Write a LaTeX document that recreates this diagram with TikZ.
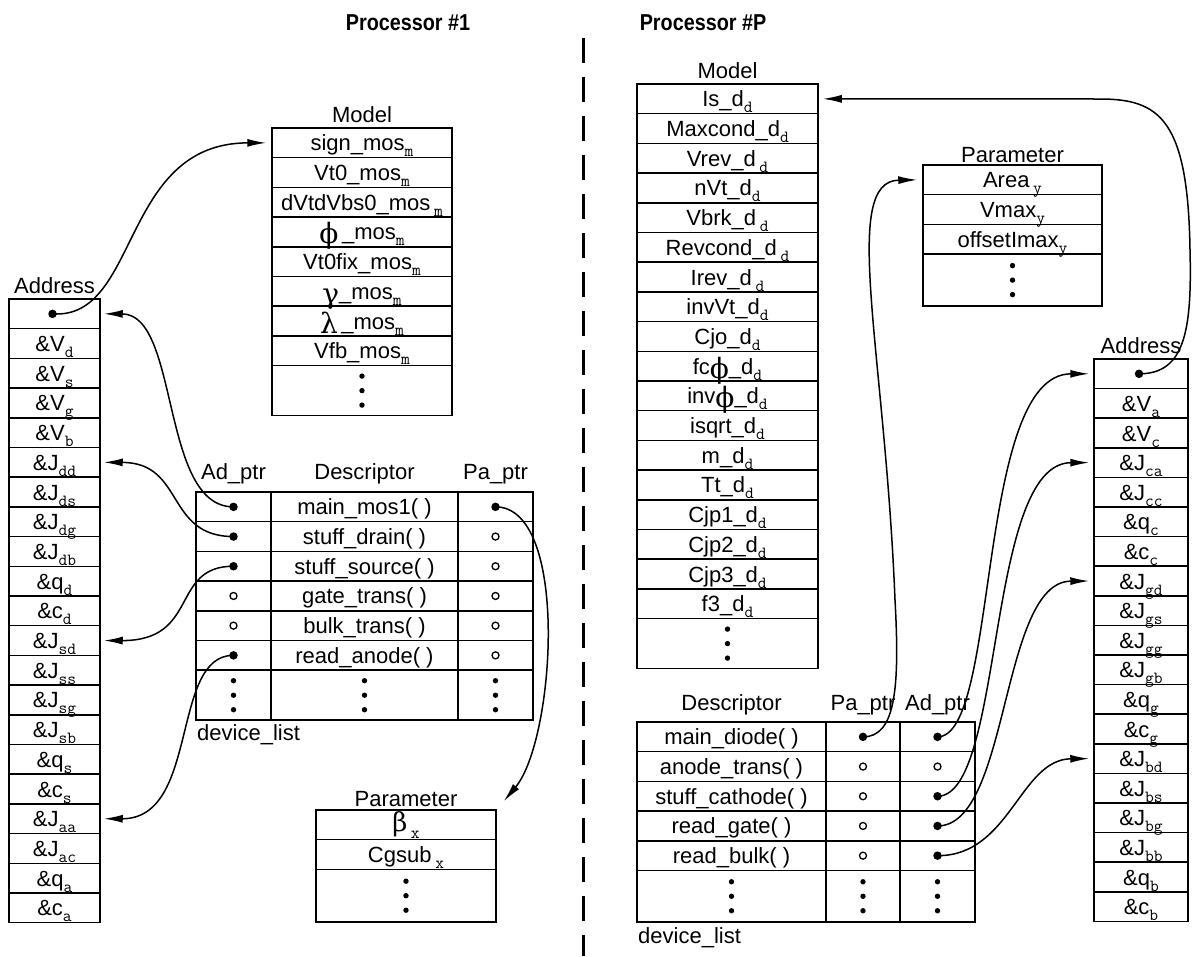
\documentclass[tikz,border=0pt]{standalone}
\usepackage{fontspec}
\setmainfont{Liberation Sans}
\newfontfamily\grk{DejaVu Serif}
\usetikzlibrary{arrows.meta,calc}
\newcommand\sbs[1]{\raisebox{-6pt}{\fontsize{17}{17}\selectfont\ttfamily #1}}
\newcommand\gk[1]{\raisebox{-4pt}{\fontsize{28}{28}\selectfont\grk #1}}
\newcommand\threedots[1]{\foreach \dy in {-14.5,0,14.5} \fill ($(#1)+(0,\dy)$) circle (2.7);}
\begin{document}
\begin{tikzpicture}[x=1pt,y=-1pt,
  cell/.style={draw, line width=1.5pt, inner sep=0pt, minimum height=29.7pt,
    text height=16pt, text depth=0pt, font=\fontsize{22}{22}\selectfont},
  lab/.style={anchor=base, inner sep=0pt, font=\fontsize{22}{22}\selectfont},
  ttl/.style={anchor=base, inner sep=0pt, font=\fontsize{23}{23}\selectfont\bfseries},
  dotf/.style={circle, fill, inner sep=0pt, minimum size=8.5pt},
  doto/.style={circle, draw, line width=1.3pt, inner sep=0pt, minimum size=7pt},
  arr/.style={line width=1.5pt, -{Latex[length=19pt,width=8pt]}},
]
\useasboundingbox (0,0) rectangle (1193,956);

% titles and divider
\node[ttl] (T1) at (408,30) {\scalebox{0.86}[1]{Processor \#1}};
\node[ttl] (TP) at (703,30) {\scalebox{0.86}[1]{Processor \#P}};
\coordinate (divtop) at (583,38);
\coordinate (divbot) at (583,956);
\draw[line width=3pt, dash pattern=on 25pt off 14pt] (divtop) -- (divbot);

% ---------------- Processor 1 ----------------
% Address column
\node[lab] (LAlab) at (54.5,293) {Address};
\foreach[count=\i from 0] \t in {{},\&V\sbs{d},\&V\sbs{s},\&V\sbs{g},\&V\sbs{b},\&J\sbs{dd},\&J\sbs{ds},\&J\sbs{dg},\&J\sbs{db},\&q\sbs{d},\&c\sbs{d},\&J\sbs{sd},\&J\sbs{ss},\&J\sbs{sg},\&J\sbs{sb},\&q\sbs{s},\&c\sbs{s},\&J\sbs{aa},\&J\sbs{ac},\&q\sbs{a},\&c\sbs{a}}
  \node[cell, minimum width=91pt] (LA\i) at (54.5, 299+29.7*\i+14.85) {\t};
\node[dotf] (LAd) at ($(LA0.center)+(-2,0)$) {};

% Model table
\node[lab] (LMlab) at (362,122) {Model};
\foreach[count=\i from 0] \t in {sign\_mos\sbs{m}, Vt0\_mos\sbs{m}, dVtdVbs0\_mos\,\sbs{m}, \gk{ϕ}\,\_mos\sbs{m}, Vt0fix\_mos\sbs{m}, \gk{γ}\_mos\sbs{m}, \gk{λ}\,\_mos\sbs{m}, Vfb\_mos\sbs{m}}
  \node[cell, minimum width=180pt] (LM\i) at (362, 128+29.7*\i+14.85) {\t};
\node[cell, minimum width=180pt, minimum height=50pt] (LM8) at (362, 128+237.6+25) {};
\threedots{LM8.center}

% Descriptor table
\node[lab] (LHa) at (233.5,479) {Ad\_ptr};
\node[lab] (LHd) at (364.5,479) {Descriptor};
\node[lab] (LHp) at (495.5,479) {Pa\_ptr};
\foreach[count=\i from 0] \t in {main\_mos1( ), stuff\_drain( ), stuff\_source( ), gate\_trans( ), bulk\_trans( ), read\_anode( )} {
  \node[cell, minimum width=75pt] (LDa\i) at (233.5, 492+29.7*\i+14.85) {};
  \node[cell, minimum width=187pt] (LDd\i) at (364.5, 492+29.7*\i+14.85) {\t};
  \node[cell, minimum width=75pt] (LDp\i) at (495.5, 492+29.7*\i+14.85) {};
}
\node[cell, minimum width=75pt, minimum height=50pt] (LDa6) at (233.5, 492+178.2+25) {};
\node[cell, minimum width=187pt, minimum height=50pt] (LDd6) at (364.5, 492+178.2+25) {};
\node[cell, minimum width=75pt, minimum height=50pt] (LDp6) at (495.5, 492+178.2+25) {};
\threedots{LDa6.center}
\threedots{LDd6.center}
\threedots{LDp6.center}
\node[lab, anchor=base west] (LDlist) at (197,740) {device\_list};
\foreach \i in {0,1,2,5} \node[dotf] (LDf\i) at (LDa\i.center) {};
\foreach \i in {3,4} \node[doto] (LDo\i) at (LDa\i.center) {};
\node[dotf] (LPf0) at (LDp0.center) {};
\foreach \i in {1,...,5} \node[doto] (LPo\i) at (LDp\i.center) {};

% Parameter table
\node[lab] (LPlab) at (406,806) {Parameter};
\node[cell, minimum width=180pt] (LP0) at (406, 810+14.85) {\raisebox{1pt}{\fontsize{26}{26}\selectfont\grk β}\,\sbs{x}};
\node[cell, minimum width=180pt] (LP1) at (406, 810+29.7+14.85) {Cgsub\,\sbs{x}};
\node[cell, minimum width=180pt, minimum height=52.6pt] (LP2) at (406, 810+59.4+26.3) {};
\threedots{LP2.center}

% arrow tips
\coordinate (tLM) at ($(LM0.west)+(-5,0)$);
\coordinate (tLA0) at ($(LA0.east)+(3,0)$);
\coordinate (tLA5) at ($(LA5.east)+(3,0)$);
\coordinate (tLA11) at ($(LA11.east)+(3,0)$);
\coordinate (tLA17) at ($(LA17.east)+(3,0)$);
\coordinate (tLP) at ($(LP0.north east)+(7,-8)$);

\draw[arr] (LAd.center) .. controls (140,320) and (120,143) .. (tLM);
\draw[arr] (LDf0.center) .. controls (160,507) and (180,314) .. (tLA0);
\draw[arr] (LDf1.center) .. controls (165,536.5) and (185,462.5) .. (tLA5);
\draw[arr] (LDf2.center) .. controls (170,566) and (200,640.7) .. (tLA11);
\draw[arr] (LDf5.center) .. controls (170,655) and (200,818.9) .. (tLA17);
\draw[arr] (LPf0.center) .. controls (570,507) and (555,740) .. (tLP);

% ---------------- Processor P ----------------
% Model table
\node[lab] (RMlab) at (727.5,78) {Model};
\foreach[count=\i from 0] \t in {Is\_d\sbs{d}, Maxcond\_d\sbs{d}, Vrev\_d\,\sbs{d}, nVt\_d\sbs{d}, Vbrk\_d\,\sbs{d}, Revcond\_d\,\sbs{d}, Irev\_d\,\sbs{d}, invVt\_d\sbs{d}, Cjo\_d\sbs{d}, fc\gk{ϕ}\_d\sbs{d}, inv\gk{ϕ}\_d\sbs{d}, isqrt\_d\sbs{d}, m\_d\sbs{d}, Tt\_d\sbs{d}, Cjp1\_d\sbs{d}, Cjp2\_d\sbs{d}, Cjp3\_d\sbs{d}, f3\_d\sbs{d}}
  \node[cell, minimum width=181pt] (RM\i) at (727.5, 84+29.7*\i+14.85) {\t};
\node[cell, minimum width=181pt, minimum height=50pt] (RM18) at (727.5, 84+534.6+25) {};
\threedots{RM18.center}

% Parameter table
\node[lab] (RPlab) at (1012.5,162) {Parameter};
\foreach[count=\i from 0] \t in {Area\,\sbs{y}, Vmax\sbs{y}, offsetImax\sbs{y}}
  \node[cell, minimum width=179pt] (RP\i) at (1012.5, 165+29.7*\i+14.85) {\t};
\node[cell, minimum width=179pt, minimum height=52pt] (RP3) at (1012.5, 165+89.1+26) {};
\threedots{RP3.center}

% Descriptor table
\node[lab] (RHd) at (731.5,710) {Descriptor};
\node[lab] (RHp) at (863,710) {Pa\_ptr};
\node[lab] (RHa) at (937.5,710) {Ad\_ptr};
\foreach[count=\i from 0] \t in {main\_diode( ), anode\_trans( ), stuff\_cathode( ), read\_gate( ), read\_bulk( )} {
  \node[cell, minimum width=189pt] (RDd\i) at (731.5, 722+29.7*\i+14.85) {\t};
  \node[cell, minimum width=74pt] (RDp\i) at (863, 722+29.7*\i+14.85) {};
  \node[cell, minimum width=75pt] (RDa\i) at (937.5, 722+29.7*\i+14.85) {};
}
\node[cell, minimum width=189pt, minimum height=51.5pt] (RDd5) at (731.5, 722+148.5+25.75) {};
\node[cell, minimum width=74pt, minimum height=51.5pt] (RDp5) at (863, 722+148.5+25.75) {};
\node[cell, minimum width=75pt, minimum height=51.5pt] (RDa5) at (937.5, 722+148.5+25.75) {};
\threedots{RDd5.center}
\threedots{RDp5.center}
\threedots{RDa5.center}
\node[lab, anchor=base west] (RDlist) at (638,943) {device\_list};
\node[dotf] (RPf0) at (RDp0.center) {};
\foreach \i in {1,...,4} \node[doto] (RPo\i) at (RDp\i.center) {};
\foreach \i in {0,2,3,4} \node[dotf] (RAf\i) at (RDa\i.center) {};
\node[doto] (RAo1) at (RDa1.center) {};

% Address column
\node[lab] (RAlab) at (1141,353) {Address};
\foreach[count=\i from 0] \t in {{},\&V\sbs{a},\&V\sbs{c},\&J\sbs{ca},\&J\sbs{cc},\&q\sbs{c},\&c\sbs{c},\&J\sbs{gd},\&J\sbs{gs},\&J\sbs{gg},\&J\sbs{gb},\&q\sbs{g},\&c\sbs{g},\&J\sbs{bd},\&J\sbs{bs},\&J\sbs{bg},\&J\sbs{bb},\&q\sbs{b},\&c\sbs{b}}
  \node[cell, minimum width=94pt] (RA\i) at (1141, 359+29.6*\i+14.8) {\t};
\node[dotf] (RAd) at ($(RA0.center)+(-2,0)$) {};

% arrow tips
\coordinate (tRM) at ($(RM0.east)+(4,0)$);
\coordinate (tRP) at ($(RP0.west)+(-5,0)$);
\coordinate (tRA0) at ($(RA0.west)+(-4,0)$);
\coordinate (tRA3) at ($(RA3.west)+(-4,0)$);
\coordinate (tRA7) at ($(RA7.west)+(-4,0)$);
\coordinate (tRA13) at ($(RA13.west)+(-4,0)$);

\draw[arr] (RPf0.center) .. controls (895,737) and (900,690) .. (895,600) .. controls (885,350) and (840,181) .. (tRP);
\draw[arr] (RAf0.center) .. controls (1000,737) and (975,374) .. (tRA0);
\draw[arr] (RAf2.center) .. controls (1005,796) and (985,463) .. (tRA3);
\draw[arr] (RAf3.center) .. controls (1010,826) and (1000,581.6) .. (tRA7);
\draw[arr] (RAf4.center) .. controls (1010,856) and (1020,759.3) .. (tRA13);
\draw[arr] (RAd.center) .. controls (1185,374) and (1192,330) .. (1190,250) .. controls (1188,120) and (1160,99) .. (1100,99) -- (tRM);
\end{tikzpicture}
\end{document}
